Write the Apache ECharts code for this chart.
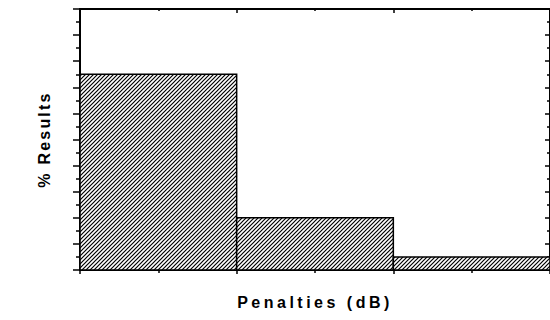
<!DOCTYPE html>
<html>
<head>
<meta charset="utf-8">
<script src="https://cdn.jsdelivr.net/npm/echarts@6/dist/echarts.min.js"></script>
<style>
html,body{margin:0;padding:0;background:#fff;}
#c{width:550px;height:320px;}
#c text{letter-spacing:3.5px;}
#c text[transform^="matrix(0"]{letter-spacing:2.2px;}
</style>
</head>
<body>
<div id="c"></div>
<script>
// Data
const binStart = [0, 1, 2];
const binEnd = [1, 2, 3];
const pctResults = [75, 20, 5];
const xName = 'Penalties (dB)';
const yName = '% Results';

// hatch tile
const tile = document.createElement('canvas');
tile.width = 4; tile.height = 4;
const tc = tile.getContext('2d');
tc.fillStyle = '#fff'; tc.fillRect(0, 0, 4, 4);
tc.strokeStyle = '#000'; tc.lineWidth = 1.2;
tc.beginPath();
tc.moveTo(-1, 5); tc.lineTo(5, -1);
tc.moveTo(-1, 1); tc.lineTo(1, -1);
tc.moveTo(3, 5); tc.lineTo(5, 3);
tc.stroke();
const hatch = { image: tile.toDataURL(), repeat: 'repeat' };

const data = binStart.map((s, i) => [s, binEnd[i], pctResults[i]]);

const lineStyle = { color: '#000', width: 2 };
const tickStyle = { color: '#000', width: 1.5 };
const nameStyle = { color: '#000', fontFamily: 'Liberation Sans, Arial, sans-serif', fontWeight: 'bold', fontSize: 16 };

const chart = echarts.init(document.getElementById('c'), null, { renderer: 'svg' });
chart.setOption({
  animation: false,
  backgroundColor: '#fff',
  grid: { left: 80, top: 9, bottom: 50, right: -3, containLabel: false },
  xAxis: [
    {
      type: 'value', position: 'bottom', min: 0, max: 3, interval: 1,
      name: xName, nameLocation: 'middle', nameGap: 24, nameTextStyle: nameStyle,
      axisLine: { show: true, onZero: false, lineStyle: lineStyle },
      axisTick: { show: true, inside: false, length: 4, lineStyle: tickStyle },
      minorTick: { show: true, splitNumber: 2, length: 3, lineStyle: tickStyle },
      axisLabel: { show: false }, splitLine: { show: false }
    },
    {
      type: 'value', position: 'top', min: 0, max: 3, interval: 1,
      axisLine: { show: true, onZero: false, lineStyle: lineStyle },
      axisTick: { show: true, inside: true, length: 4, lineStyle: tickStyle },
      minorTick: { show: true, splitNumber: 2, length: 2, lineStyle: tickStyle },
      axisLabel: { show: false }, splitLine: { show: false }
    }
  ],
  yAxis: [
    {
      type: 'value', position: 'left', min: 0, max: 100, interval: 10,
      name: yName, nameLocation: 'middle', nameGap: 28, nameTextStyle: nameStyle,
      axisLine: { show: true, onZero: false, lineStyle: lineStyle },
      axisTick: { show: true, inside: false, length: 7, lineStyle: tickStyle },
      minorTick: { show: true, splitNumber: 2, length: 4, lineStyle: tickStyle },
      axisLabel: { show: false }, splitLine: { show: false }
    },
    {
      type: 'value', position: 'right', min: 0, max: 100, interval: 10,
      axisLine: { show: true, onZero: false, lineStyle: lineStyle },
      axisTick: { show: true, inside: true, length: 5, lineStyle: tickStyle },
      minorTick: { show: true, splitNumber: 2, length: 3, lineStyle: tickStyle },
      axisLabel: { show: false }, splitLine: { show: false }
    }
  ],
  series: [{
    type: 'custom',
    xAxisIndex: 0, yAxisIndex: 0,
    data: data,
    encode: { x: [0, 1], y: 2 },
    renderItem: function (params, api) {
      const p0 = api.coord([api.value(0), api.value(2)]);
      const p1 = api.coord([api.value(1), 0]);
      return {
        type: 'rect',
        shape: { x: p0[0], y: p0[1], width: p1[0] - p0[0], height: p1[1] - p0[1] },
        style: { fill: hatch, stroke: '#000', lineWidth: 1.5 }
      };
    }
  }]
});
</script>
</body>
</html>
